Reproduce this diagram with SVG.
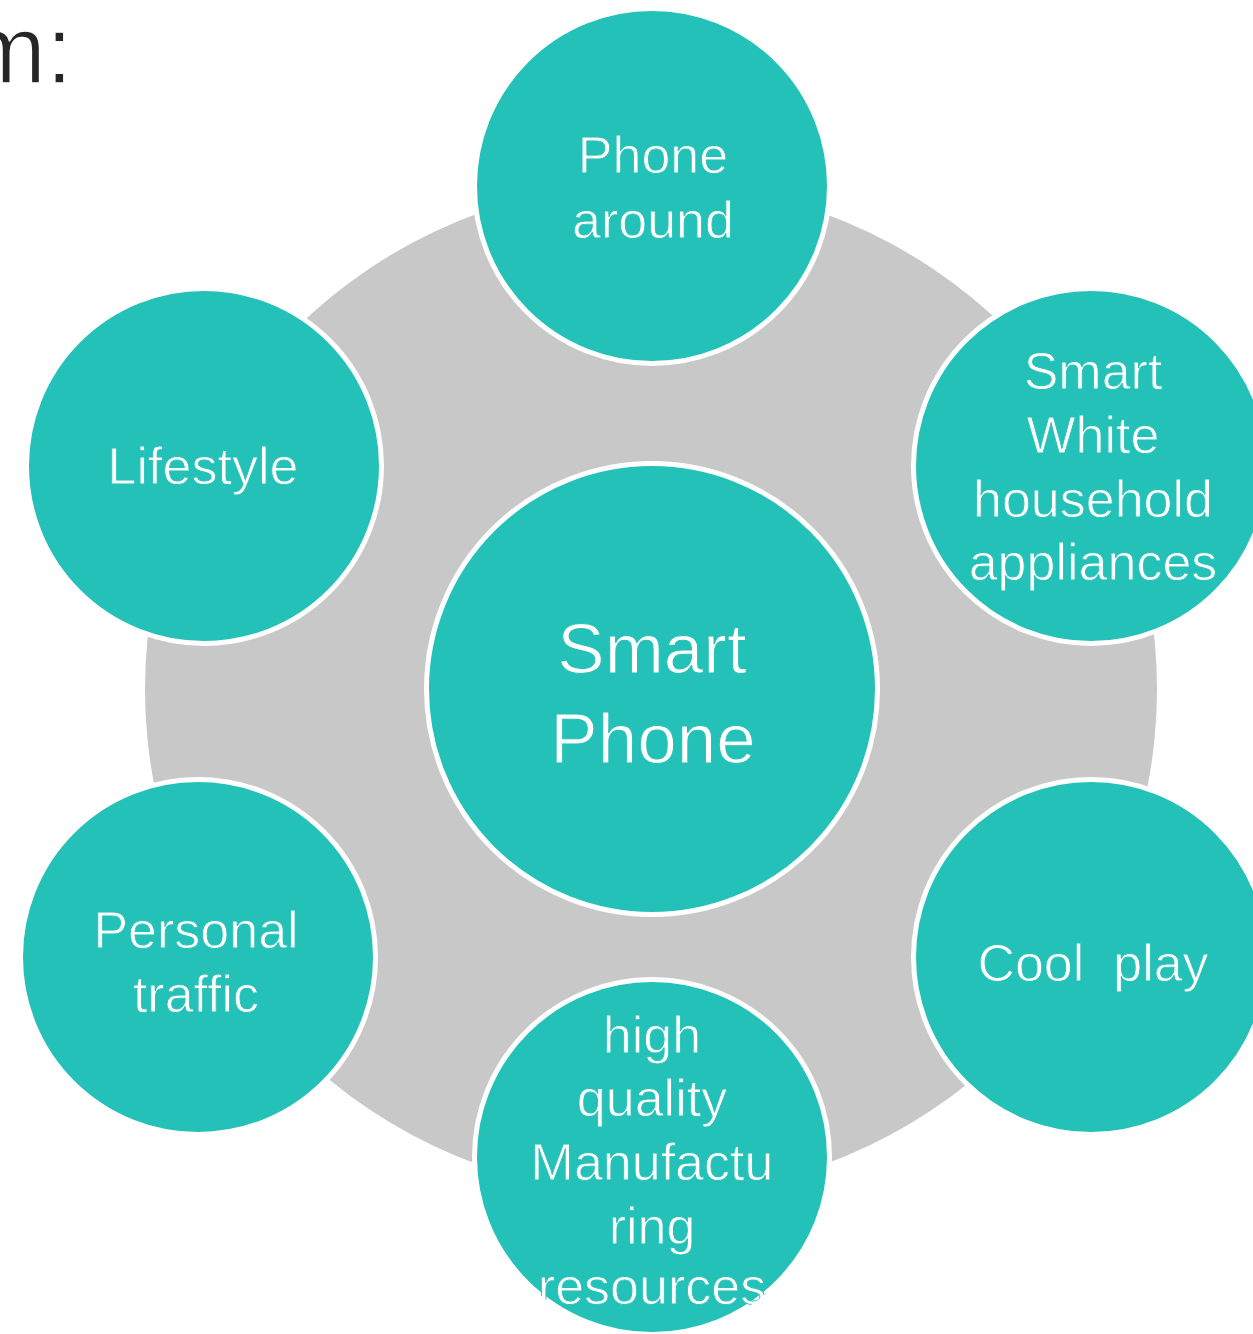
<svg xmlns="http://www.w3.org/2000/svg" width="1253" height="1334" viewBox="0 0 1253 1334">
<style>
.bg{fill:#C8C8C8}
.node{fill:#24C1B8;stroke:#FFFFFF;stroke-width:5}
.lbl{font-family:"Liberation Sans",Arial,Helvetica,sans-serif;font-size:52px;fill:#FFFFFF;text-anchor:middle;stroke:#24C1B8;stroke-width:0.9px}
.big{font-size:71px;stroke-width:1.1px}
.title{font-family:"Liberation Sans",Arial,Helvetica,sans-serif;font-size:96px;fill:#262626;stroke:#FFFFFF;stroke-width:1.6px}
</style>
<defs>
<clipPath id="clipBottom"><circle cx="652" cy="1157" r="178"/></clipPath>
</defs>
<rect width="1253" height="1334" fill="#FFFFFF"/>
<text class="title" x="-34" y="83">m:</text>
<g id="ring"><circle class="bg" cx="651" cy="689" r="506"/></g>
<g id="connectors"></g>
<g id="center">
<circle class="node" cx="652" cy="689" r="225.5"/>
<text class="lbl big" x="652" y="673">Smart</text>
<text class="lbl big" x="653" y="763">Phone</text>
</g>
<g id="phone-around">
<circle class="node" cx="652" cy="186" r="177.5"/>
<text class="lbl" x="653" y="173">Phone</text>
<text class="lbl" x="653" y="238">around</text>
</g>
<g id="smart-white">
<circle class="node" cx="1091" cy="466" r="177.5"/>
<text class="lbl" x="1093" y="389">Smart</text>
<text class="lbl" x="1093" y="453">White</text>
<text class="lbl" x="1093" y="517">household</text>
<text class="lbl" x="1093" y="580">appliances</text>
</g>
<g id="cool-play">
<circle class="node" cx="1091" cy="957" r="177.5"/>
<text class="lbl" x="1093" y="981" xml:space="preserve">Cool  play</text>
</g>
<g id="manufacturing">
<circle class="node" cx="652" cy="1157" r="177.5"/>
<g clip-path="url(#clipBottom)">
<text class="lbl" x="652" y="1053">high</text>
<text class="lbl" x="652" y="1116">quality</text>
<text class="lbl" x="652" y="1180">Manufactu</text>
<text class="lbl" x="652" y="1244">ring</text>
<text class="lbl" x="652" y="1304">resources</text>
</g>
</g>
<g id="personal-traffic">
<circle class="node" cx="198" cy="957" r="177.5"/>
<text class="lbl" x="196" y="948">Personal</text>
<text class="lbl" x="196" y="1012">traffic</text>
</g>
<g id="lifestyle">
<circle class="node" cx="204" cy="466" r="177.5"/>
<text class="lbl" x="203" y="484">Lifestyle</text>
</g>
</svg>
